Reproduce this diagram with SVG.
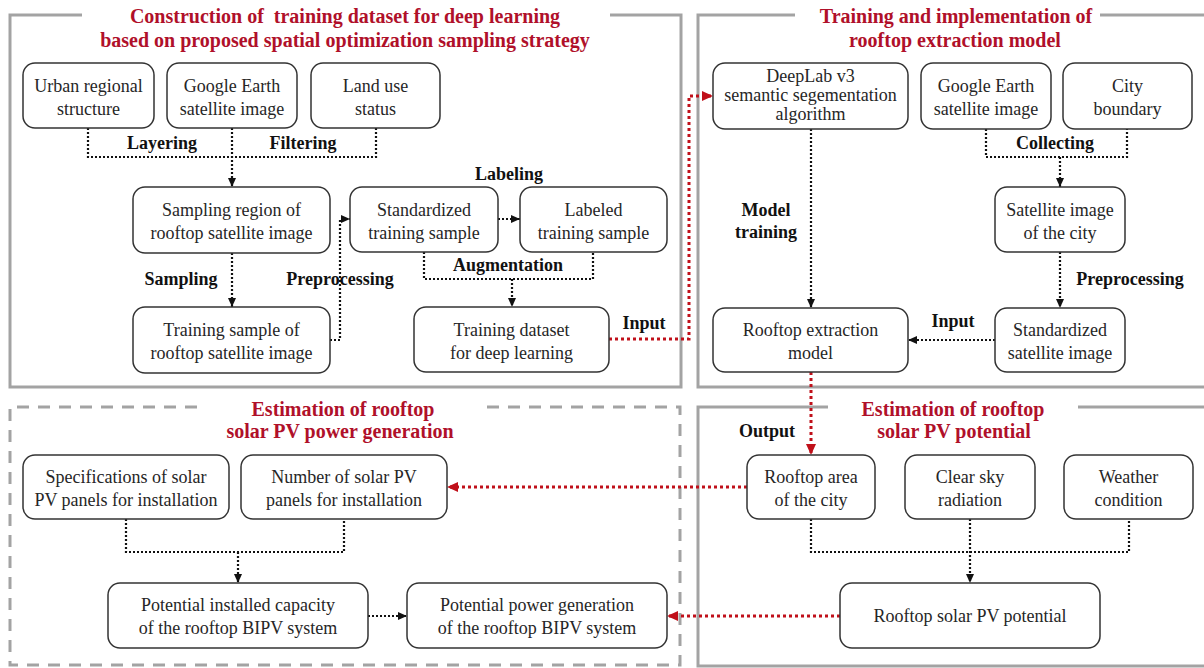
<svg xmlns="http://www.w3.org/2000/svg" width="1204" height="668" viewBox="0 0 1204 668">
<defs>
<style>
.frame{fill:none;stroke:#a3a3a3;stroke-width:3}
.dframe{fill:none;stroke:#a3a3a3;stroke-width:3;stroke-dasharray:12 9}
.box{fill:#fff;stroke:#333;stroke-width:1.5}
.t{font-family:"Liberation Serif","Times New Roman",serif;font-size:18px;fill:#262626;text-anchor:middle}
.lbl{font-family:"Liberation Serif","Times New Roman",serif;font-size:18px;font-weight:bold;fill:#111;text-anchor:middle}
.title{font-family:"Liberation Serif","Times New Roman",serif;font-size:20px;font-weight:bold;fill:#B0102A;text-anchor:middle}
.dot{fill:none;stroke:#111;stroke-width:2.2;stroke-dasharray:2 2}
.rdot{fill:none;stroke:#C0101A;stroke-width:3;stroke-dasharray:3 3}
</style>
<marker id="ab" markerUnits="userSpaceOnUse" markerWidth="9" markerHeight="8" refX="9" refY="4" orient="auto">
<path d="M0,0 L9,4 L0,8 z" fill="#111"/>
</marker>
<marker id="ar" markerUnits="userSpaceOnUse" markerWidth="11" markerHeight="10" refX="11" refY="5" orient="auto">
<path d="M0,0 L11,5 L0,10 z" fill="#C0101A"/>
</marker>
</defs>
<rect width="1204" height="668" fill="#fff"/>

<g id="panels">
<path class="frame" d="M82,15 H10 V387 H681 V15 H610"/>
<path class="frame" d="M795,15 H698 V387 H1206 M1100,15 H1206"/>
<path class="dframe" d="M197,407 H10 V665 H680 V407 H487"/>
<path class="frame" d="M828,407 H698 V666 H1206 M1078,407 H1206"/>
<text class="title" x="345" y="23" xml:space="preserve">Construction of  training dataset for deep learning</text>
<text class="title" x="345" y="47">based on proposed spatial optimization sampling strategy</text>
<text class="title" x="956" y="23">Training and implementation of</text>
<text class="title" x="955" y="47">rooftop extraction model</text>
<text class="title" x="343" y="416">Estimation of rooftop</text>
<text class="title" x="340" y="438">solar PV power generation</text>
<text class="title" x="953" y="416">Estimation of rooftop</text>
<text class="title" x="954" y="438">solar PV potential</text>
</g>

<g id="connectors">
<path class="dot" d="M88,128 V157 H376 V128"/>
<path class="dot" d="M232,128 V187" marker-end="url(#ab)"/>
<path class="dot" d="M232,253 V307" marker-end="url(#ab)"/>
<path class="dot" d="M330,340 H340 V219 H350" marker-end="url(#ab)"/>
<path class="dot" d="M498,219 H520" marker-end="url(#ab)"/>
<path class="dot" d="M424,252 V279 H593 V252"/>
<path class="dot" d="M512,279 V307" marker-end="url(#ab)"/>
<path class="rdot" d="M609,339 H689 V96 H713" marker-end="url(#ar)"/>
<path class="dot" d="M811,129 V308" marker-end="url(#ab)"/>
<path class="dot" d="M986,129 V157 H1127 V129"/>
<path class="dot" d="M1060,157 V187" marker-end="url(#ab)"/>
<path class="dot" d="M1060,252 V308" marker-end="url(#ab)"/>
<path class="dot" d="M995,340 H908" marker-end="url(#ab)"/>
<path class="rdot" d="M811,372 V455" marker-end="url(#ar)"/>
<path class="dot" d="M811,519 V552 H1129 V519"/>
<path class="dot" d="M970,519 V583" marker-end="url(#ab)"/>
<path class="rdot" d="M840,616 H667" marker-end="url(#ar)"/>
<path class="rdot" d="M747,487 H447" marker-end="url(#ar)"/>
<path class="dot" d="M126,519 V552 H344 V519"/>
<path class="dot" d="M238,552 V583" marker-end="url(#ab)"/>
<path class="dot" d="M368,616 H407" marker-end="url(#ab)"/>
</g>

<g id="labels">
<text class="lbl" x="162" y="149">Layering</text>
<text class="lbl" x="303" y="149">Filtering</text>
<text class="lbl" x="509" y="180">Labeling</text>
<text class="lbl" x="181" y="285">Sampling</text>
<text class="lbl" x="340" y="285">Preprocessing</text>
<text class="lbl" x="508" y="271">Augmentation</text>
<text class="lbl" x="644" y="329">Input</text>
<text class="lbl" x="766" y="216">Model</text>
<text class="lbl" x="766" y="238">training</text>
<text class="lbl" x="1055" y="149">Collecting</text>
<text class="lbl" x="1130" y="285">Preprocessing</text>
<text class="lbl" x="953" y="327">Input</text>
<text class="lbl" x="767" y="437">Output</text>
</g>

<g id="n-urban"><rect class="box" x="23" y="63" width="131" height="65" rx="12"/><text class="t" x="88.5" y="92">Urban regional</text><text class="t" x="88.5" y="114.5">structure</text></g>
<g id="n-google1"><rect class="box" x="167" y="63" width="130" height="65" rx="12"/><text class="t" x="232" y="92">Google Earth</text><text class="t" x="232" y="114.5">satellite image</text></g>
<g id="n-landuse"><rect class="box" x="311" y="63" width="129" height="65" rx="12"/><text class="t" x="375.5" y="92">Land use</text><text class="t" x="375.5" y="114.5">status</text></g>
<g id="n-region"><rect class="box" x="133" y="187" width="197" height="66" rx="12"/><text class="t" x="231.5" y="216">Sampling region of</text><text class="t" x="231.5" y="238.5">rooftop satellite image</text></g>
<g id="n-sample"><rect class="box" x="133" y="307" width="197" height="66" rx="12"/><text class="t" x="231.5" y="336">Training sample of</text><text class="t" x="231.5" y="358.5">rooftop satellite image</text></g>
<g id="n-std"><rect class="box" x="350" y="187" width="148" height="65" rx="12"/><text class="t" x="424" y="216">Standardized</text><text class="t" x="424" y="238.5">training sample</text></g>
<g id="n-labeled"><rect class="box" x="520" y="187" width="147" height="65" rx="12"/><text class="t" x="593.5" y="216">Labeled</text><text class="t" x="593.5" y="238.5">training sample</text></g>
<g id="n-dataset"><rect class="box" x="414" y="307" width="195" height="65" rx="12"/><text class="t" x="511.5" y="336">Training dataset</text><text class="t" x="511.5" y="358.5">for deep learning</text></g>

<g id="n-deeplab"><rect class="box" x="713" y="63" width="195" height="66" rx="12"/><text class="t" x="810.5" y="82">DeepLab v3</text><text class="t" x="810.5" y="101">semantic segementation</text><text class="t" x="810.5" y="120">algorithm</text></g>
<g id="n-google2"><rect class="box" x="921" y="63" width="130" height="66" rx="12"/><text class="t" x="986" y="92">Google Earth</text><text class="t" x="986" y="114.5">satellite image</text></g>
<g id="n-boundary"><rect class="box" x="1063" y="63" width="129" height="66" rx="12"/><text class="t" x="1127.5" y="92">City</text><text class="t" x="1127.5" y="114.5">boundary</text></g>
<g id="n-satcity"><rect class="box" x="995" y="187" width="130" height="65" rx="12"/><text class="t" x="1060" y="216">Satellite image</text><text class="t" x="1060" y="238.5">of the city</text></g>
<g id="n-stdsat"><rect class="box" x="995" y="308" width="130" height="64" rx="12"/><text class="t" x="1060" y="336">Standardized</text><text class="t" x="1060" y="358.5">satellite image</text></g>
<g id="n-model"><rect class="box" x="713" y="308" width="195" height="64" rx="12"/><text class="t" x="810.5" y="336">Rooftop extraction</text><text class="t" x="810.5" y="358.5">model</text></g>

<g id="n-area"><rect class="box" x="747" y="455" width="128" height="64" rx="12"/><text class="t" x="811" y="483">Rooftop area</text><text class="t" x="811" y="505.5">of the city</text></g>
<g id="n-clearsky"><rect class="box" x="905" y="455" width="130" height="64" rx="12"/><text class="t" x="970" y="483">Clear sky</text><text class="t" x="970" y="505.5">radiation</text></g>
<g id="n-weather"><rect class="box" x="1064" y="455" width="129" height="64" rx="12"/><text class="t" x="1128.5" y="483">Weather</text><text class="t" x="1128.5" y="505.5">condition</text></g>
<g id="n-potential"><rect class="box" x="840" y="583" width="260" height="65" rx="12"/><text class="t" x="970" y="622">Rooftop solar PV potential</text></g>

<g id="n-specs"><rect class="box" x="23" y="455" width="206" height="64" rx="12"/><text class="t" x="126" y="483">Specifications of solar</text><text class="t" x="126" y="505.5">PV panels for installation</text></g>
<g id="n-number"><rect class="box" x="241" y="455" width="206" height="64" rx="12"/><text class="t" x="344" y="483">Number of solar PV</text><text class="t" x="344" y="505.5">panels for installation</text></g>
<g id="n-capacity"><rect class="box" x="108" y="583" width="260" height="65" rx="12"/><text class="t" x="238" y="611">Potential installed capacity</text><text class="t" x="238" y="633.5">of the rooftop BIPV system</text></g>
<g id="n-power"><rect class="box" x="407" y="583" width="260" height="65" rx="12"/><text class="t" x="537" y="611">Potential power generation</text><text class="t" x="537" y="633.5">of the rooftop BIPV system</text></g>
</svg>
